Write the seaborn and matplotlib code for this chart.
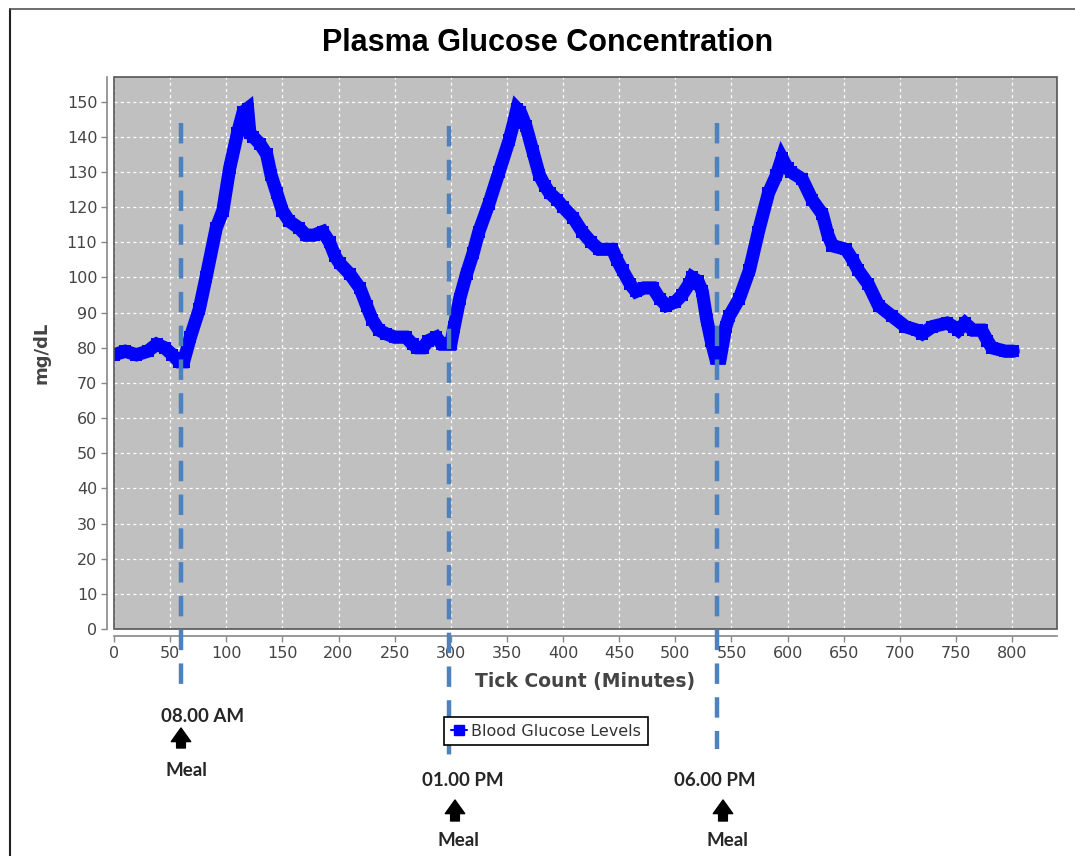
import matplotlib
matplotlib.use("Agg")
import numpy as np
import pandas as pd
import matplotlib.pyplot as plt
from matplotlib.lines import Line2D
from matplotlib.patches import Rectangle
import seaborn as sns

# glucose readings (minutes, mg/dL)
minutes = [0, 10, 20, 30, 38, 45, 52, 58, 62, 68, 76, 82, 91, 97, 103, 110, 115, 119,
           121, 124, 130, 136, 140, 145, 150, 156, 165, 171, 178, 186, 192, 197, 201,
           210, 219, 225, 230, 236, 242, 250, 260, 266, 270, 275, 280, 287, 292, 296,
           300, 303, 308, 314, 320, 325, 334, 343, 352, 356, 359, 362, 367, 373, 379,
           384, 388, 395, 400, 409, 417, 425, 432, 444, 448, 453, 460, 465, 472, 480,
           486, 492, 500, 506, 512, 515, 520, 524, 528, 532, 536, 540, 545, 548, 557,
           566, 574, 583, 590, 595, 600, 603, 613, 622, 631, 636, 640, 652, 658, 663,
           672, 681, 693, 705, 715, 720, 729, 742, 748, 752, 758, 765, 773, 778, 782,
           794, 801]
glucose = [78, 79, 78, 79, 81, 80, 78, 76, 76, 83, 91, 100, 114, 119, 131, 141, 147, 148,
           141, 140, 138, 135, 129, 124, 119, 116, 114, 112, 112, 113, 110, 106, 104,
           101, 97, 92, 88, 85, 84, 83, 83, 81, 80, 80, 82, 83, 81, 81,
           81, 86, 94, 101, 107, 113, 121, 130, 139, 144, 148, 147, 143, 136, 129,
           126, 124, 122, 120, 117, 113, 110, 108, 108, 105, 102, 98, 96, 97, 97,
           94, 92, 93, 95, 98, 100, 99, 96, 88, 82, 77, 77, 86, 89, 94,
           102, 113, 124, 129, 134, 131, 130, 128, 122, 118, 112, 109, 108, 105, 102,
           98, 92, 89, 86, 85, 84, 86, 87, 86, 85, 87, 85, 85, 82, 80,
           79, 79]

# meal markers
meal_minutes = [60, 298, 537]
meal_top = [144, 143, 144]
meal_bottom = [-16, -37, -34]
meal_times = ["08.00 AM", "01.00 PM", "06.00 PM"]
# label positions in pixels: time label, arrow, "Meal"
time_xy = [(203, 716), (463, 781), (715, 780)]
arrow_x = [181, 455, 723]
arrow_y = [(748, 728), (821, 800), (821, 800)]
meal_xy = [(186, 770), (458, 840), (727, 840)]

W, H = 1075, 856

sns.set_theme(style="whitegrid", rc={
    "axes.facecolor": "#C0C0C0",
    "grid.color": "white",
    "grid.linestyle": (0, (2.5, 2.5)),
    "grid.linewidth": 0.9,
})
plt.rcParams["font.family"] = ["DejaVu Sans"]

fig = plt.figure(figsize=(W / 100, H / 100), dpi=100)
fig.patch.set_facecolor("white")
ax = fig.add_axes([114 / W, 1 - 629 / H, (1057 - 114) / W, (629 - 77) / H])

df = pd.DataFrame({"minute": minutes, "glucose": glucose})
sns.lineplot(data=df, x="minute", y="glucose", ax=ax, color="#0000FF", lw=9.5,
             marker="s", markersize=9, markeredgewidth=0, legend=False,
             solid_joinstyle="miter", zorder=3)

for m, t, b in zip(meal_minutes, meal_top, meal_bottom):
    ax.plot([m, m], [t, b], color="#4F81BD", lw=3.2, dashes=(4.6, 3.0),
            clip_on=False, zorder=5)

ax.set_xlim(0, 840)
ax.set_ylim(0, 157)
ax.set_xticks(np.arange(0, 801, 50))
ax.set_yticks(np.arange(0, 151, 10))
ax.grid(True, zorder=0)
ax.set_axisbelow(True)

# plot frame
ax.add_patch(Rectangle((0, 0), 1, 1, transform=ax.transAxes, fill=False,
                       edgecolor="#555555", lw=1.2, zorder=4, clip_on=False))
for side in ["top", "right"]:
    ax.spines[side].set_visible(False)
for side in ["left", "bottom"]:
    ax.spines[side].set_position(("outward", 5))
    ax.spines[side].set_color("#888888")
    ax.spines[side].set_linewidth(1.2)

ax.tick_params(axis="both", which="major", length=4, width=1, color="#888888",
               labelsize=11.5, labelcolor="#444444", pad=3, left=True, bottom=True)

ax.set_xlabel("Tick Count (Minutes)", fontsize=13.5, fontweight="bold", color="#444444",
              labelpad=8)
ax.set_ylabel("mg/dL", fontsize=13, fontweight="bold", color="#444444", labelpad=12)

fig.text(548 / W, 1 - 43 / H, "Plasma Glucose Concentration", ha="center", va="center",
         fontsize=22, fontweight="bold", color="black",
         family=["Liberation Sans", "DejaVu Sans"])

handle = Line2D([], [], color="#0000FF", lw=1.5, marker="s", markersize=7)
leg = ax.legend([handle], ["Blood Glucose Levels"], loc="center",
                bbox_to_anchor=(546 / W, 1 - 731 / H), bbox_transform=fig.transFigure,
                frameon=True, fancybox=False, edgecolor="black", facecolor="white",
                framealpha=1, fontsize=11.5, handlelength=1.0, handletextpad=0.3,
                borderpad=0.42, borderaxespad=0)
leg.get_frame().set_linewidth(1.2)
for txt in leg.get_texts():
    txt.set_color("#333333")

ann_font = ["Lato", "DejaVu Sans"]
for lbl, (tx, ty), axx, (ay0, ay1), (mx, my) in zip(meal_times, time_xy, arrow_x,
                                                    arrow_y, meal_xy):
    fig.text(tx / W, 1 - ty / H, lbl, ha="center", va="center", fontsize=13.5,
             fontweight="bold", family=ann_font)
    fig.text(mx / W, 1 - my / H, "Meal", ha="center", va="center", fontsize=13.5,
             fontweight="bold", family=ann_font)
    ax.annotate("", xy=(axx / W, 1 - ay1 / H), xytext=(axx / W, 1 - ay0 / H),
                xycoords="figure fraction", textcoords="figure fraction",
                arrowprops=dict(arrowstyle="simple,head_length=0.7,head_width=1.0,tail_width=0.45",
                                color="black", shrinkA=0, shrinkB=0,
                                mutation_scale=14),
                annotation_clip=False)

# outer frame of the screenshot
fig.add_artist(Line2D([10 / W, 10 / W], [1 - 9 / H, 0], transform=fig.transFigure,
                      color="#222222", lw=1.5))
fig.add_artist(Line2D([10 / W, 1], [1 - 9 / H, 1 - 9 / H], transform=fig.transFigure,
                      color="#555555", lw=1.2))

fig.savefig("out.png", dpi=100)
